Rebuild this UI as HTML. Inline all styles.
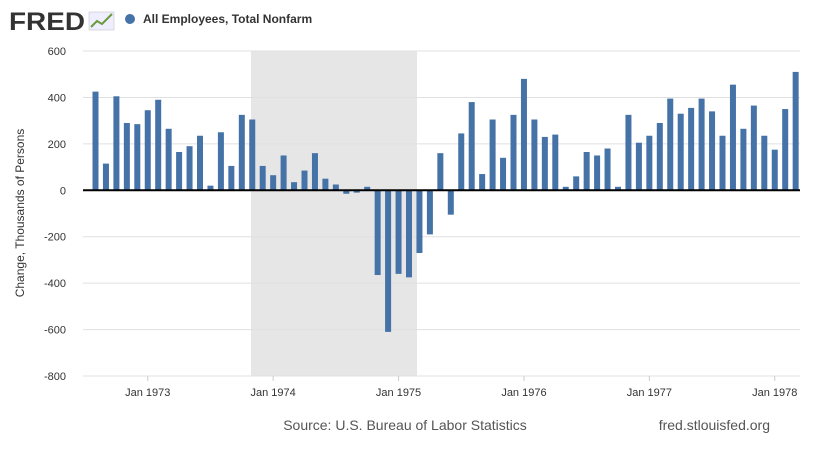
<!DOCTYPE html>
<html><head><meta charset="utf-8"><style>
body{margin:0;background:#fff;width:820px;height:450px;overflow:hidden;font-family:"Liberation Sans",Arial,sans-serif}
</style></head><body>
<svg id="c" width="820" height="450" xmlns="http://www.w3.org/2000/svg" font-family="Liberation Sans, Arial, sans-serif">
<text x="9" y="30" font-size="25" font-weight="bold" fill="#333" textLength="76" lengthAdjust="spacingAndGlyphs">FRED</text>
<rect x="89" y="12" width="25" height="18" fill="#eef" stroke="#bbb" stroke-width="0.5"/>
<polyline points="91,27 97,21 102,24 112,14" fill="none" stroke="#6a9a3a" stroke-width="2"/>
<circle cx="130" cy="19" r="5" fill="#4572a7"/>
<text x="143" y="23" font-size="12" font-weight="bold" fill="#333">All Employees, Total Nonfarm</text>
<rect x="251" y="51" width="166" height="325" fill="#e6e6e6"/>
<g id="grid" stroke="#e0e0e0" stroke-width="1"></g>
<g id="ylab" font-size="11" fill="#333" text-anchor="end"></g>
<g id="bars" fill="#4572a7"></g>
<line x1="83" y1="190.3" x2="800" y2="190.3" stroke="#000" stroke-width="2"/>
<g id="xlab" font-size="11" fill="#333" text-anchor="middle"></g>
<text transform="translate(24,213) rotate(-90)" font-size="12" fill="#333" text-anchor="middle">Change, Thousands of Persons</text>
<text x="405" y="430" font-size="14" fill="#555" text-anchor="middle">Source: U.S. Bureau of Labor Statistics</text>
<text x="770" y="430" font-size="14" fill="#555" text-anchor="end">fred.stlouisfed.org</text>
</svg>
<script>
var ns="http://www.w3.org/2000/svg";
function el(t,a,p,txt){var e=document.createElementNS(ns,t);for(var k in a)e.setAttribute(k,a[k]);if(txt)e.textContent=txt;document.getElementById(p).appendChild(e);}
function Y(v){return 190.3-v*0.23214;}
for(var v=600;v>=-800;v-=200){var y=Y(v);if(v!=0)el('line',{x1:83,x2:800,y1:y,y2:y},'grid');el('text',{x:66,y:y+4},'ylab',String(v));}
var d=[425,115,405,290,285,345,390,265,165,190,235,20,250,105,325,305,105,65,150,35,85,160,50,25,-15,-10,15,-365,-610,-360,-375,-270,-190,160,-105,245,380,70,305,140,325,480,305,230,240,15,60,165,150,180,15,325,205,235,290,395,330,355,395,340,235,455,265,365,235,175,350,510];
for(var i=0;i<d.length;i++){var x=95.5+i*10.45,y0=Y(0),y1=Y(d[i]);el('rect',{x:x-3,y:Math.min(y0,y1),width:6,height:Math.abs(y1-y0)},'bars');}
var yrs=['Jan 1973','Jan 1974','Jan 1975','Jan 1976','Jan 1977','Jan 1978'];
for(var j=0;j<6;j++){var x=95.5+(5+12*j)*10.45;el('line',{x1:x,x2:x,y1:376,y2:381,stroke:'#ccc'},'xlab');el('text',{x:x,y:396},'xlab',yrs[j]);}
</script>
</body></html>
